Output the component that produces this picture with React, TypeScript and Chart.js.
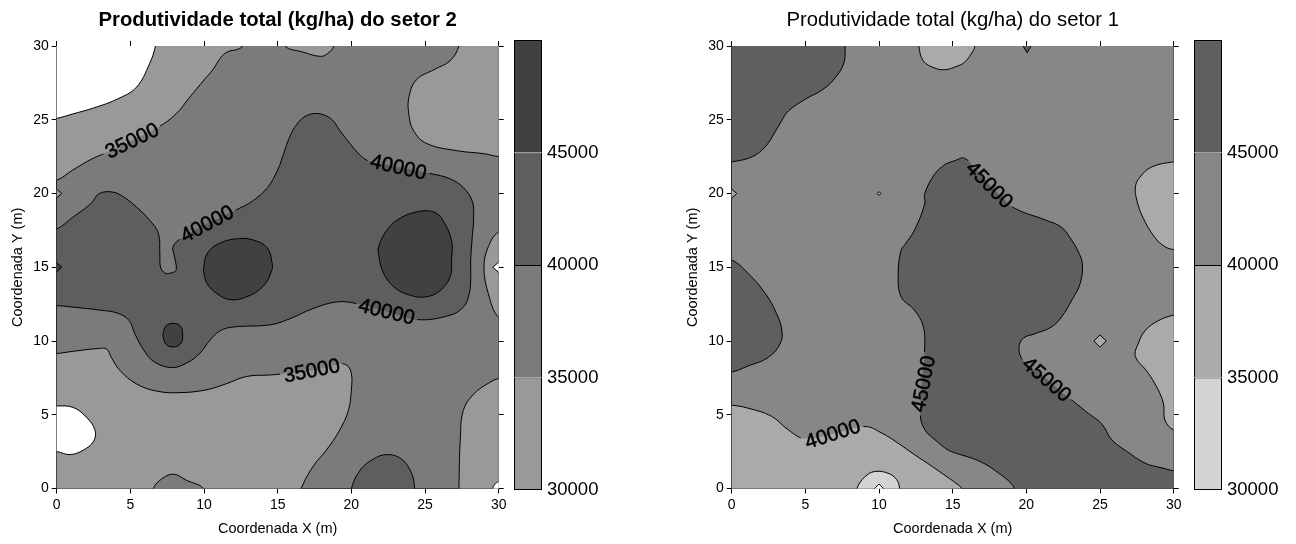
import React, { useEffect, useRef } from 'react';
import { Chart, registerables } from 'chart.js';

Chart.register(...registerables);
Chart.defaults.font.family = "'Liberation Sans', Arial, Helvetica, sans-serif";
Chart.defaults.color = '#000';

type Pt = [number, number];
type Region = { band: number; pts: Pt[]; tension?: number; noEdge?: boolean };
type ContourLabel = { value: number; x: number; y: number; angle: number };

// axis ticks (metres) and contour levels (kg/ha)
const axisTicks = [0, 5, 10, 15, 20, 25, 30];
const contourLevels = [30000, 35000, 40000, 45000];
const scaleMax = 50000;

// shade per band: 0 = below 30000, 1 = 30000-35000, ... 4 = above 45000
const setor2Shades = ['#ffffff', '#999999', '#7b7b7b', '#5e5e5e', '#414141'];
const setor1Shades = ['#ffffff', '#d3d3d3', '#aaaaaa', '#878787', '#5f5f5f'];

const frame: Pt[] = [[-1, -1], [31, -1], [31, 31], [-1, 31], [-1, -1]];

// ---------- setor 2 ----------
const s2TopLeft: Pt[] = [[-1, 20.8], [0, 20.9], [1.1, 21.6], [2.3, 22.3], [3.3, 22.75], [5.1, 23.6], [6.9, 24.5], [8.1, 25.4], [9.0, 26.5], [10.0, 27.7], [10.6, 28.4], [11.2, 29.3], [11.7, 29.65], [12.2, 29.75], [12.6, 30], [12.8, 31], [-1, 31]];
const s2TopMid: Pt[] = [[15.3, 31], [15.5, 30], [16.7, 29.6], [17.9, 29.3], [18.4, 29.5], [18.8, 30], [18.9, 31]];
const s2TopRight: Pt[] = [[27.4, 31], [27.3, 30], [26.7, 29.0], [25.6, 28.4], [24.4, 27.7], [23.9, 26.5], [23.9, 25.4], [24.2, 24.3], [25.1, 23.4], [27.2, 22.9], [29.0, 22.7], [30, 22.5], [31, 22.4], [31, 31]];
const s2RightEdge: Pt[] = [[31, 17.5], [30, 17.4], [29.3, 16.4], [29.0, 15.0], [29.3, 13.2], [30, 11.6], [31, 11.4]];
const s2Bottom: Pt[] = [[-1, 9.1], [0, 9.15], [1.1, 9.3], [2.9, 9.5], [3.4, 9.45], [3.7, 8.9], [4.3, 8.0], [5.4, 7.1], [6.8, 6.6], [8.4, 6.5], [10.2, 6.7], [11.5, 7.1], [12.9, 7.6], [14.5, 7.7], [17.3, 8.0], [19.2, 8.45], [19.7, 8.35], [20.0, 7.8], [20.0, 6.7], [19.8, 5.3], [19.2, 3.95], [18.3, 2.6], [17.4, 1.5], [16.6, 0], [16.4, -1], [-1, -1]];
const s2BottomRight: Pt[] = [[27.3, -1], [27.3, 0], [27.4, 3.5], [27.6, 5.3], [28.3, 6.4], [29.4, 7.2], [30, 7.45], [31, 7.5], [31, -1]];
const s2BottomBump: Pt[] = [[6.4, -1], [6.55, 0], [7.2, 0.7], [7.95, 0.97], [8.8, 0.56], [9.95, 0], [10.1, -1]];
const s2Middle: Pt[] = [[-1, 17.5], [0, 17.6], [1.1, 18.4], [2.3, 19.3], [2.9, 20.0], [3.8, 20.1], [4.5, 19.8], [5.4, 19.1], [6.3, 18.2], [6.9, 17.3], [7.0, 15.9], [7.05, 15.0], [7.35, 14.6], [7.7, 14.6], [8.1, 14.8], [8.0, 15.7], [7.9, 16.4], [8.5, 17.0], [10.2, 17.95], [12.2, 18.9], [13.3, 19.5], [14.3, 20.4], [15.0, 21.6], [15.4, 22.7], [15.8, 23.8], [16.3, 24.7], [17.0, 25.3], [17.9, 25.4], [18.7, 25.0], [19.2, 24.3], [19.9, 23.4], [20.6, 22.6], [21.2, 22.2], [23.2, 21.8], [25.4, 21.35], [26.7, 21.0], [27.6, 20.4], [28.2, 19.5], [28.3, 18.4], [28.2, 17.0], [28.1, 15.5], [28.1, 14.2], [28.0, 13.2], [27.6, 12.3], [26.7, 11.75], [24.5, 11.45], [22.4, 12.0], [20.3, 12.55], [19.0, 12.65], [17.4, 12.2], [15.8, 11.5], [14.5, 11.1], [12.0, 10.95], [11.1, 10.7], [10.4, 10.05], [9.7, 9.15], [8.8, 8.5], [7.8, 8.2], [6.6, 8.6], [5.9, 9.4], [5.3, 10.5], [4.9, 11.4], [4.1, 11.9], [2.9, 12.1], [1.1, 12.3], [0, 12.4], [-1, 12.4]];
const s2BottomMid: Pt[] = [[19.9, -1], [20.0, 0], [20.6, 1.25], [21.5, 2.0], [22.4, 2.3], [23.4, 2.0], [24.1, 1.0], [24.3, 0], [24.4, -1]];
const s2BlobA: Pt[] = [[9.95, 14.8], [10.2, 15.9], [11.0, 16.6], [12.4, 16.95], [13.5, 16.8], [14.3, 16.3], [14.6, 15.4], [14.6, 14.8], [14.0, 13.7], [12.9, 13.0], [11.8, 12.8], [10.9, 13.2], [10.2, 13.9], [9.95, 14.8]];
const s2BlobB: Pt[] = [[21.8, 16.2], [22.0, 16.8], [22.4, 17.5], [23.1, 18.2], [24.4, 18.75], [25.6, 18.75], [26.2, 18.2], [26.8, 16.8], [26.8, 15.5], [26.7, 14.35], [26.0, 13.4], [25.1, 13.0], [24.0, 13.1], [22.85, 13.7], [22.1, 14.8], [21.8, 16.2]];
const s2BlobC: Pt[] = [[7.2, 10.4], [7.4, 11.0], [7.9, 11.2], [8.4, 11.0], [8.55, 10.4], [8.4, 9.8], [7.9, 9.6], [7.4, 9.8], [7.2, 10.4]];
const s2LowTopLeft: Pt[] = [[-1, 25.0], [0, 25.1], [1.1, 25.4], [2.5, 25.8], [4.1, 26.4], [5.4, 27.2], [6.3, 28.8], [6.7, 30], [6.8, 31], [-1, 31]];
const s2LowBottomLeft: Pt[] = [[-1, 5.6], [0, 5.6], [1.1, 5.5], [2.0, 4.85], [2.6, 3.95], [2.5, 3.2], [1.8, 2.6], [0.9, 2.3], [0, 2.5], [-1, 2.5]];
const s2LowRightPost: Pt[] = [[30.5, 15.35], [30, 15.35], [29.6, 15.0], [30, 14.65], [30.5, 14.65]];
const s2LowCorner: Pt[] = [[29.6, -1], [29.6, 0], [29.75, 0.3], [30, 0.45], [31, 0.45], [31, -1]];
const s2PostLeftA: Pt[] = [[-0.5, 20.3], [0, 20.3], [0.35, 20.0], [0, 19.7], [-0.5, 19.7]];
const s2PostLeftB: Pt[] = [[-0.5, 15.3], [0, 15.3], [0.35, 15.0], [0, 14.7], [-0.5, 14.7]];

const setor2Regions: Region[] = [
  { band: 2, pts: frame, tension: 0, noEdge: true },
  { band: 1, pts: s2TopLeft },
  { band: 1, pts: s2TopMid },
  { band: 1, pts: s2TopRight },
  { band: 1, pts: s2RightEdge },
  { band: 1, pts: s2Bottom },
  { band: 1, pts: s2BottomRight },
  { band: 2, pts: s2BottomBump },
  { band: 3, pts: s2Middle },
  { band: 3, pts: s2BottomMid },
  { band: 4, pts: s2BlobA },
  { band: 4, pts: s2BlobB },
  { band: 4, pts: s2BlobC },
  { band: 0, pts: s2LowTopLeft },
  { band: 0, pts: s2LowBottomLeft },
  { band: 0, pts: s2LowRightPost, tension: 0 },
  { band: 0, pts: s2LowCorner },
  { band: 1, pts: s2PostLeftA, tension: 0 },
  { band: 4, pts: s2PostLeftB, tension: 0 },
];

const setor2Labels: ContourLabel[] = [
  { value: 35000, x: 5.1, y: 23.6, angle: -26 },
  { value: 40000, x: 10.2, y: 17.95, angle: -28 },
  { value: 40000, x: 23.2, y: 21.8, angle: 13 },
  { value: 40000, x: 22.4, y: 12.0, angle: 14 },
  { value: 35000, x: 17.3, y: 8.0, angle: -11 },
];

// ---------- setor 1 ----------
const s1TopLeft: Pt[] = [[-1, 22.1], [0, 22.15], [1.4, 22.5], [2.3, 23.2], [2.9, 24.1], [3.4, 24.95], [3.85, 25.6], [5.0, 26.4], [6.1, 27.0], [6.9, 27.7], [7.6, 28.8], [7.7, 30], [7.7, 31], [-1, 31]];
const s1TopBump: Pt[] = [[12.6, 31], [12.7, 30], [13.0, 29.0], [13.8, 28.5], [14.5, 28.4], [15.2, 28.6], [15.8, 28.9], [16.4, 29.7], [16.5, 30], [16.6, 31]];
const s1TopNotch: Pt[] = [[19.6, 30.3], [20.5, 30.3], [20.05, 29.55], [19.6, 30.3]];
const s1RightTop: Pt[] = [[31, 22.2], [30, 22.15], [28.5, 21.8], [27.7, 21.1], [27.4, 20.45], [27.5, 19.55], [27.9, 18.4], [28.7, 17.05], [29.4, 16.4], [30, 16.2], [31, 16.1]];
const s1RightBottom: Pt[] = [[31, 11.8], [30, 11.75], [29.0, 11.4], [28.1, 10.75], [27.6, 9.85], [27.4, 8.95], [28.1, 8.05], [28.7, 7.15], [29.3, 5.8], [29.4, 4.65], [30, 3.97], [31, 3.9]];
const s1Center: Pt[] = [[14.5, 22.0], [15.2, 22.25], [15.8, 22.4], [16.6, 21.6], [17.5, 20.6], [18.4, 19.7], [19.2, 19.0], [21.3, 18.2], [22.4, 17.7], [23.1, 16.8], [23.5, 16.1], [23.8, 15.25], [23.65, 13.9], [23.1, 12.8], [22.4, 11.65], [21.7, 10.95], [20.6, 10.5], [19.8, 10.2], [19.5, 9.6], [19.7, 8.8], [20.5, 8.1], [21.4, 7.4], [22.3, 6.6], [23.2, 5.9], [24.2, 5.1], [25.1, 4.4], [25.8, 3.3], [26.7, 2.6], [28.1, 1.7], [29.2, 1.4], [30, 1.2], [31, 1.1], [31, -1], [19.1, -1], [19.2, 0], [17.9, 1.2], [16.7, 1.9], [15.2, 2.4], [14.7, 2.6], [13.8, 3.3], [13.1, 4.0], [12.8, 5.0], [12.9, 7.1], [13.1, 9.6], [13.0, 11.0], [12.4, 12.1], [11.5, 13.0], [11.3, 14.6], [11.5, 16.15], [11.8, 16.6], [12.4, 17.5], [13.1, 19.3], [13.1, 20.0], [13.8, 21.35], [14.5, 22.0]];
const s1LeftEdge: Pt[] = [[-1, 15.6], [0, 15.5], [1.1, 14.6], [2.3, 13.2], [3.05, 11.85], [3.4, 10.75], [3.3, 9.85], [2.5, 8.9], [1.1, 8.3], [0, 7.9], [-1, 7.85]];
const s1BottomLeft: Pt[] = [[-1, 5.7], [0, 5.65], [1.1, 5.45], [2.7, 4.9], [3.85, 3.97], [4.9, 3.4], [6.85, 3.7], [9.05, 4.2], [10.2, 3.75], [11.3, 3.07], [12.4, 2.3], [13.6, 1.5], [14.6, 0.8], [15.2, 0.37], [15.6, 0], [15.7, -1], [-1, -1]];
const s1BottomBump: Pt[] = [[8.4, -1], [8.5, 0], [9.05, 0.8], [9.7, 1.15], [10.6, 1.04], [11.2, 0.6], [11.4, 0], [11.5, -1]];
const s1PostA: Pt[] = [[25, 10.42], [25.42, 10], [25, 9.58], [24.58, 10], [25, 10.42]];
const s1PostB: Pt[] = [[10, 20.13], [10.13, 20], [10, 19.87], [9.87, 20], [10, 20.13]];
const s1PostLeft: Pt[] = [[-0.5, 20.3], [0, 20.3], [0.35, 20.0], [0, 19.7], [-0.5, 19.7]];
const s1PostBottom: Pt[] = [[9.7, -0.5], [9.7, 0], [10, 0.3], [10.3, 0], [10.3, -0.5]];

const setor1Regions: Region[] = [
  { band: 3, pts: frame, tension: 0, noEdge: true },
  { band: 4, pts: s1TopLeft },
  { band: 2, pts: s1TopBump },
  { band: 4, pts: s1TopNotch, tension: 0 },
  { band: 2, pts: s1RightTop },
  { band: 2, pts: s1RightBottom },
  { band: 4, pts: s1Center },
  { band: 4, pts: s1LeftEdge },
  { band: 2, pts: s1BottomLeft },
  { band: 1, pts: s1BottomBump },
  { band: 2, pts: s1PostA, tension: 0 },
  { band: 2, pts: s1PostB, tension: 0 },
  { band: 2, pts: s1PostLeft, tension: 0 },
  { band: 0, pts: s1PostBottom, tension: 0 },
];

const setor1Labels: ContourLabel[] = [
  { value: 45000, x: 17.5, y: 20.6, angle: 45 },
  { value: 45000, x: 21.4, y: 7.4, angle: 41 },
  { value: 45000, x: 13.0, y: 7.1, angle: -79 },
  { value: 40000, x: 6.85, y: 3.7, angle: -18 },
];

const LABEL_FONT = "20.5px 'Liberation Sans', Arial, sans-serif";

type MapProps = {
  left: number;
  title: string;
  bold: boolean;
  regions: Region[];
  shades: string[];
  labels: ContourLabel[];
  yAxisWidth: number;
  rightWidth: number;
  yTitlePad: number;
};

function ContourMap(p: MapProps) {
  const ref = useRef<HTMLCanvasElement>(null);
  useEffect(() => {
    const canvas = ref.current;
    if (!canvas) return;

    const toData = (pts: Pt[]) => pts.map(([x, y]) => ({ x, y }));
    const fills = p.regions.map((r) => ({
      data: toData(r.pts),
      showLine: true,
      fill: 'shape',
      backgroundColor: p.shades[r.band],
      borderColor: 'rgba(0,0,0,0)',
      borderWidth: 0,
      pointRadius: 0,
      tension: r.tension ?? 0.4,
    }));
    const edges = p.regions
      .filter((r) => !r.noEdge)
      .map((r) => ({
        data: toData(r.pts),
        showLine: true,
        fill: false,
        borderColor: '#000',
        borderWidth: 1,
        pointRadius: 0,
        tension: r.tension ?? 0.4,
        contourEdge: true,
      }));
    // first dataset is painted last, so reverse the painting order
    const datasets = [...fills, ...edges].reverse();

    const labelBoxes = (chart: any) => {
      const ctx = chart.ctx;
      ctx.save();
      ctx.font = LABEL_FONT;
      const boxes = p.labels.map((lb) => {
        const cx = chart.scales.x.getPixelForValue(lb.x);
        const cy = chart.scales.y.getPixelForValue(lb.y);
        const w = ctx.measureText(String(lb.value)).width + 6;
        return { cx, cy, w, h: 15, a: (lb.angle * Math.PI) / 180, text: String(lb.value) };
      });
      ctx.restore();
      return boxes;
    };

    const contourLabelPlugin = {
      id: 'contourLabels',
      beforeDatasetDraw(chart: any, args: any) {
        const ds = chart.data.datasets[args.index];
        if (!ds.contourEdge) return;
        const ctx = chart.ctx;
        ctx.save();
        ctx.beginPath();
        ctx.rect(0, 0, chart.width, chart.height);
        for (const b of labelBoxes(chart)) {
          const c = Math.cos(b.a);
          const s = Math.sin(b.a);
          const corners = [
            [-b.w / 2, -b.h / 2],
            [b.w / 2, -b.h / 2],
            [b.w / 2, b.h / 2],
            [-b.w / 2, b.h / 2],
          ].map(([dx, dy]) => [b.cx + dx * c - dy * s, b.cy + dx * s + dy * c]);
          ctx.moveTo(corners[0][0], corners[0][1]);
          for (let i = 1; i < 4; i++) ctx.lineTo(corners[i][0], corners[i][1]);
          ctx.closePath();
        }
        ctx.clip('evenodd');
      },
      afterDatasetDraw(chart: any, args: any) {
        const ds = chart.data.datasets[args.index];
        if (ds.contourEdge) chart.ctx.restore();
      },
      afterDatasetsDraw(chart: any) {
        const ctx = chart.ctx;
        for (const b of labelBoxes(chart)) {
          ctx.save();
          ctx.translate(b.cx, b.cy);
          ctx.rotate(b.a);
          ctx.font = LABEL_FONT;
          ctx.fillStyle = '#000';
          ctx.strokeStyle = '#000';
          ctx.lineWidth = 0.5;
          ctx.textAlign = 'center';
          ctx.textBaseline = 'middle';
          ctx.fillText(b.text, 0, 1);
          ctx.strokeText(b.text, 0, 1);
          ctx.restore();
        }
      },
    };

    const tickMarks = { drawOnChartArea: false, drawTicks: true, tickLength: 5, color: '#000' };
    const edge = { display: true, color: '#000', width: 1 };
    const setTicks = (s: any) => {
      s.ticks = axisTicks.map((v) => ({ value: v }));
    };

    const chart = new Chart(canvas, {
      type: 'scatter',
      data: { datasets: datasets as any },
      options: {
        responsive: false,
        animation: false,
        devicePixelRatio: 1,
        layout: { padding: 0 },
        elements: { line: { capBezierPoints: false }, point: { radius: 0 } },
        plugins: {
          legend: { display: false },
          tooltip: { enabled: false },
          title: {
            display: true,
            text: p.title,
            color: '#000',
            font: { size: 20.3, weight: p.bold ? 'bold' : 'normal' },
            padding: { top: 8, bottom: 0 },
            fullSize: false,
          } as any,
        },
        scales: {
          x: {
            type: 'linear',
            position: 'bottom',
            min: 0,
            max: 30,
            afterBuildTicks: setTicks,
            ticks: { font: { size: 14 }, color: '#000', padding: 3, maxRotation: 0 },
            grid: tickMarks,
            border: edge,
            title: { display: true, text: 'Coordenada X (m)', color: '#000', font: { size: 14.5 }, padding: { top: 0, bottom: 6.3 } },
            afterFit: (s: any) => { s.height = 55.5; },
          },
          y: {
            type: 'linear',
            position: 'left',
            min: 0,
            max: 30,
            afterBuildTicks: setTicks,
            ticks: { font: { size: 14 }, color: '#000', padding: 3 },
            grid: tickMarks,
            border: edge,
            title: { display: true, text: 'Coordenada Y (m)', color: '#000', font: { size: 14.5 }, padding: { top: p.yTitlePad, bottom: 0 } },
            afterFit: (s: any) => { s.width = p.yAxisWidth; },
          },
          xTop: {
            type: 'linear',
            position: 'top',
            min: 0,
            max: 30,
            afterBuildTicks: setTicks,
            ticks: { display: false },
            grid: tickMarks,
            border: edge,
            afterFit: (s: any) => { s.height = 13.7; },
          },
          yRight: {
            type: 'linear',
            position: 'right',
            min: 0,
            max: 30,
            afterBuildTicks: setTicks,
            ticks: { display: false },
            grid: tickMarks,
            border: edge,
            afterFit: (s: any) => { s.width = p.rightWidth; },
          },
        } as any,
      },
      plugins: [contourLabelPlugin],
    });
    return () => chart.destroy();
  }, []);
  return (
    <canvas
      ref={ref}
      width={560}
      height={544}
      style={{ position: 'absolute', left: p.left, top: 0, width: 560, height: 544 }}
    />
  );
}

type ScaleProps = { left: number; width: number; shades: string[] };

function ColorScale(p: ScaleProps) {
  const ref = useRef<HTMLCanvasElement>(null);
  useEffect(() => {
    const canvas = ref.current;
    if (!canvas) return;
    const bounds = [...contourLevels, scaleMax];
    const datasets = contourLevels.map((lo, i) => ({
      data: [[lo, bounds[i + 1]]],
      backgroundColor: p.shades[i + 1],
      borderColor: '#000',
      borderWidth: { top: 1, left: 1, right: 1, bottom: i === 0 ? 1 : 0 },
      borderSkipped: false,
      inflateAmount: 0,
      grouped: false,
      barPercentage: 1,
      categoryPercentage: 1,
    }));
    const chart = new Chart(canvas, {
      type: 'bar',
      data: { labels: [''], datasets: datasets as any },
      options: {
        responsive: false,
        animation: false,
        devicePixelRatio: 1,
        layout: { padding: { top: 40, bottom: 54, left: 14, right: 0 } },
        plugins: { legend: { display: false }, tooltip: { enabled: false } },
        scales: {
          x: { display: false },
          y: {
            position: 'right',
            min: contourLevels[0],
            max: scaleMax,
            afterBuildTicks: (s: any) => { s.ticks = contourLevels.map((v) => ({ value: v })); },
            ticks: { font: { size: 18.5 }, color: '#000', padding: 5, callback: (v: any) => String(v) },
            grid: { display: false, drawTicks: false },
            border: { display: false },
            afterFit: (s: any) => { s.width = p.width - 42; },
          },
        } as any,
      },
    });
    return () => chart.destroy();
  }, []);
  return (
    <canvas
      ref={ref}
      width={p.width}
      height={544}
      style={{ position: 'absolute', left: p.left, top: 0, width: p.width, height: 544 }}
    />
  );
}

export default function App() {
  return (
    <div style={{ position: 'absolute', left: 0, top: 0, width: 1296, height: 544, background: '#fff', overflow: 'hidden' }}>
      <ContourMap
        left={0}
        title="Produtividade total (kg/ha) do setor 2"
        bold={true}
        regions={setor2Regions}
        shades={setor2Shades}
        labels={setor2Labels}
        yAxisWidth={56.7}
        rightWidth={61.3}
        yTitlePad={9.3}
      />
      <ColorScale left={500} width={110} shades={setor2Shades} />
      <ContourMap
        left={676}
        title="Produtividade total (kg/ha) do setor 1"
        bold={false}
        regions={setor1Regions}
        shades={setor1Shades}
        labels={setor1Labels}
        yAxisWidth={55.7}
        rightWidth={62.3}
        yTitlePad={8.3}
      />
      <ColorScale left={1180} width={110} shades={setor1Shades} />
    </div>
  );
}
